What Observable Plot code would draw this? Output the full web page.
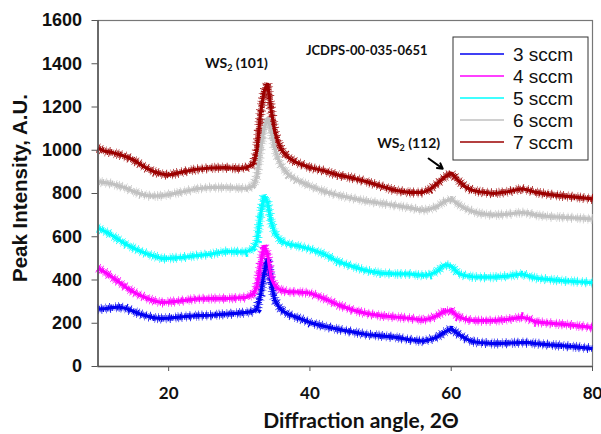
<!DOCTYPE html>
<html>
<head>
<meta charset="utf-8">
<script src="https://cdn.jsdelivr.net/npm/d3@7"></script>
<script src="https://cdn.jsdelivr.net/npm/@observablehq/plot@0.6"></script>
<style>
  body { margin: 0; background: #fff; }
  #chart { width: 601px; height: 434px; }
</style>
</head>
<body>
<div id="chart"></div>
<script>
// Diffraction angle (2θ, degrees) at which each pattern is sampled
const angle = [10, 11, 12, 13, 14, 15, 16, 17, 18, 19, 20, 22, 24, 26, 28, 30, 31, 32, 32.5, 33, 33.5, 34, 34.5, 35, 35.5, 36, 37, 38, 40, 42, 44, 46, 48, 50, 52, 54, 56, 57, 58, 59, 60, 61, 62, 63, 64, 66, 68, 70, 71, 72, 74, 76, 78, 80];

// Peak intensity (A.U.) for each gas flow rate
const sccm3 = [265, 268, 272, 275, 268, 255, 242, 233, 225, 222, 224, 230, 235, 237, 242, 247, 250, 255, 265, 330, 430, 500, 390, 310, 280, 260, 240, 229, 203, 186, 172, 160, 148, 142, 136, 124, 117, 125, 135, 158, 175, 150, 130, 115, 111, 106, 108, 111, 110, 106, 100, 95, 90, 83];
const sccm4 = [455, 435, 413, 390, 365, 345, 328, 315, 303, 296, 298, 305, 313, 314, 314, 318, 320, 335, 370, 470, 560, 520, 410, 375, 360, 352, 345, 345, 340, 315, 285, 262, 245, 235, 229, 223, 215, 222, 235, 255, 258, 230, 218, 213, 212, 212, 218, 228, 220, 206, 200, 195, 188, 180];
const sccm5 = [640, 625, 606, 585, 565, 548, 533, 520, 510, 500, 500, 505, 513, 520, 532, 530, 530, 545, 580, 700, 790, 760, 670, 620, 595, 578, 565, 560, 543, 520, 485, 463, 443, 432, 428, 428, 421, 425, 440, 470, 465, 430, 420, 415, 413, 413, 418, 428, 418, 408, 402, 396, 392, 388];
const sccm6 = [855, 850, 845, 835, 825, 810, 798, 790, 788, 790, 795, 808, 822, 828, 828, 825, 823, 835, 880, 1000, 1100, 1150, 1095, 1010, 960, 925, 885, 865, 835, 810, 792, 778, 765, 755, 745, 735, 722, 728, 740, 762, 775, 750, 730, 718, 708, 700, 705, 712, 708, 700, 693, 690, 686, 682];
const sccm7 = [1010, 995, 990, 980, 970, 955, 935, 915, 900, 890, 885, 900, 912, 918, 920, 915, 920, 935, 1000, 1170, 1270, 1310, 1190, 1090, 1035, 1000, 965, 945, 920, 905, 885, 872, 855, 835, 815, 805, 805, 820, 845, 875, 895, 860, 830, 815, 808, 800, 808, 822, 815, 805, 795, 788, 782, 775];

const seriesNames = ["3 sccm", "4 sccm", "5 sccm", "6 sccm", "7 sccm"];
const seriesValues = [sccm3, sccm4, sccm5, sccm6, sccm7];
const seriesColors = ["#0000f0", "#ff00ff", "#00ffff", "#c0c0c0", "#9b0000"];

const xTicks = [20, 40, 60, 80];
const yTicks = [0, 200, 400, 600, 800, 1000, 1200, 1400, 1600];

// Peak labels and the reference card number (left edge / baseline in data units)
const peakLabels = [
  {angle: 25.2, intensity: 1378, main: "WS", sub: "2", tail: " (101)"},
  {angle: 49.6, intensity: 1008, main: "WS", sub: "2", tail: " (112)"}
];
const cardLabel = {angle: 39.5, intensity: 1438, text: "JCDPS-00-035-0651"};
const peakArrow = [{x1: 56.8, y1: 962, x2: 58.8, y2: 915}];

const rows = [];
seriesNames.forEach((name, i) =>
  angle.forEach((a, j) => rows.push({series: name, angle: a, intensity: seriesValues[i][j]}))
);

// A trace is a solid core plus two hatched strokes that give the counting-noise fuzz
const trace = {x: "angle", y: "intensity", z: "series", stroke: "series", strokeLinecap: "butt", strokeLinejoin: "miter"};

const chart = Plot.plot({
  width: 601,
  height: 434,
  marginLeft: 97.5,
  marginRight: 9,
  marginTop: 20,
  marginBottom: 68,
  style: {background: "#fff", overflow: "visible"},
  x: {domain: [10, 80]},
  y: {domain: [0, 1600]},
  color: {domain: seriesNames, range: seriesColors},
  marks: [
    Plot.frame({stroke: "#777", strokeWidth: 1.2}),
    Plot.line(rows, {...trace, strokeWidth: 10, strokeDasharray: "0.6 2.6 0.7 4.1 0.5 3.3 0.8 5.2 0.5 2.2"}),
    Plot.line(rows, {...trace, strokeWidth: 6.5, strokeDasharray: "0.8 0.6 1 1.1 0.7 0.5 1.2 0.9 0.6 1.4"}),
    Plot.line(rows, {...trace, strokeWidth: 3.2}),
    Plot.arrow(peakArrow, {x1: "x1", y1: "y1", x2: "x2", y2: "y2", stroke: "#000", strokeWidth: 2, headLength: 7, bend: false}),
    Plot.ruleX([10], {stroke: "#555", strokeWidth: 1.5}),
    Plot.ruleY([0], {stroke: "#555", strokeWidth: 1.5}),
    Plot.axisY({ticks: yTicks, tickFormat: d => String(d), tickSize: 6, tickPadding: 10, label: null, stroke: "#555"}),
    Plot.axisX({ticks: xTicks, tickFormat: d => String(d), tickSize: 5, tickPadding: 15, label: null, stroke: "#555"})
  ]
});

const svg = d3.select(chart);

// Tick label fonts
svg.selectAll('g[aria-label="y-axis tick label"]')
  .style("font-family", "'Liberation Sans', Arial, sans-serif")
  .style("font-size", "18px").style("font-weight", "bold").attr("fill", "#111");
svg.selectAll('g[aria-label="x-axis tick label"]')
  .style("font-family", "Lato, 'Open Sans', sans-serif")
  .style("font-size", "17px").style("font-weight", "bold").attr("fill", "#111");

// Axis titles
svg.append("text")
  .attr("x", 361).attr("y", 428)
  .attr("text-anchor", "middle")
  .style("font-family", "Lato, 'Open Sans', sans-serif")
  .style("font-size", "21px").style("font-weight", "bold").attr("fill", "#111")
  .text("Diffraction angle, 2Θ");
svg.append("text")
  .attr("transform", "translate(27,188) rotate(-90)")
  .attr("text-anchor", "middle")
  .style("font-family", "'Liberation Sans', Arial, sans-serif")
  .style("font-size", "20.5px").style("font-weight", "bold").attr("fill", "#111")
  .text("Peak Intensity, A.U.");

// Peak annotations
const xs = chart.scale("x"), ys = chart.scale("y");
const annoFont = "Lato, 'Open Sans', sans-serif";
peakLabels.forEach(p => {
  const t = svg.append("text")
    .attr("x", xs.apply(p.angle)).attr("y", ys.apply(p.intensity))
    .attr("text-anchor", "start")
    .style("font-family", annoFont).style("font-size", "14px").style("font-weight", "bold").attr("fill", "#111");
  t.append("tspan").text(p.main);
  t.append("tspan").attr("dy", 3).style("font-size", "9px").text(p.sub);
  t.append("tspan").attr("dy", -3).text(p.tail);
});
svg.append("text")
  .attr("x", xs.apply(cardLabel.angle)).attr("y", ys.apply(cardLabel.intensity))
  .attr("text-anchor", "start")
  .style("font-family", annoFont).style("font-size", "13px").style("font-weight", "bold").attr("fill", "#111")
  .text(cardLabel.text);

// Legend box
const lg = svg.append("g").attr("transform", "translate(453,37)");
lg.append("rect").attr("width", 135).attr("height", 123)
  .attr("fill", "#fff").attr("stroke", "#333").attr("stroke-width", 1);
seriesNames.forEach((name, i) => {
  const yy = 17 + i * 22;
  lg.append("line").attr("x1", 7).attr("x2", 51).attr("y1", yy).attr("y2", yy)
    .attr("stroke", seriesColors[i]).attr("stroke-width", 1.6);
  lg.append("text").attr("x", 60).attr("y", yy).attr("dy", "0.36em")
    .attr("text-anchor", "start")
    .style("font-family", "'Liberation Sans', Arial, sans-serif").style("font-size", "19px")
    .attr("fill", "#111").text(name);
});

document.getElementById("chart").append(chart);
</script>
</body>
</html>
